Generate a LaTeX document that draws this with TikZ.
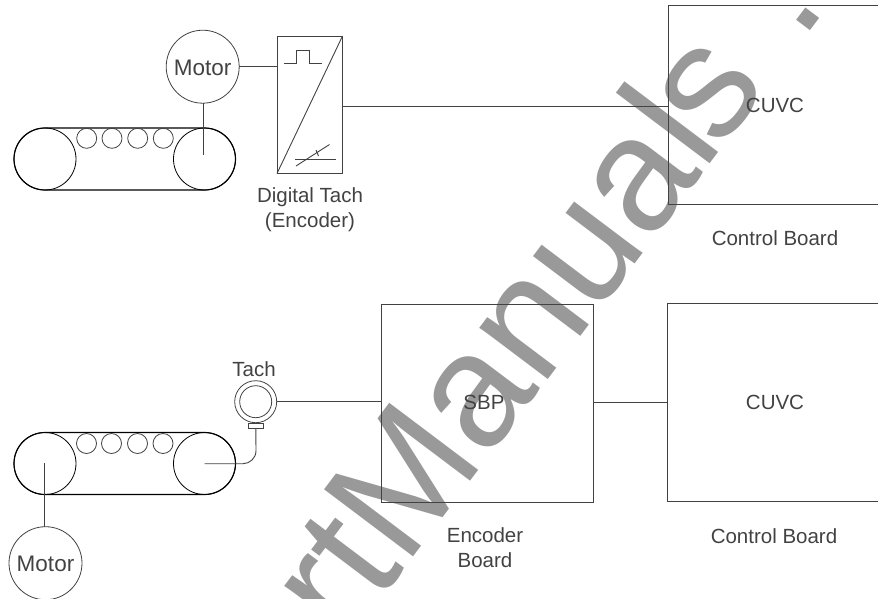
\documentclass[tikz,border=0pt]{standalone}
\usepackage{fontspec}
\setmainfont{Liberation Sans}
\definecolor{ink}{gray}{0.26}
\definecolor{wm}{gray}{0.6}
\tikzset{
  x=1pt,y=-1pt,
  wire/.style={draw=ink,line width=0.9pt},
  belt/.style={draw=black,line width=1.15pt},
  blockbox/.style={draw=ink,line width=0.9pt,fill=none,inner sep=0pt,outer sep=0pt},
  round/.style={circle,draw=ink,line width=0.8pt,inner sep=0pt,outer sep=0pt,minimum size=#1},
  label/.style={text=ink,font=\fontsize{20.5}{20.5}\selectfont,inner sep=0pt,align=center},
  motorlabel/.style={label,font=\fontsize{22.5}{22.5}\selectfont}
}
\begin{document}
\begin{tikzpicture}
\useasboundingbox (0,0) rectangle (878,598);
% watermark
\begin{scope}
\clip (0,0) rectangle (878,598);
\node[anchor=base west,rotate=53,inner sep=0pt,text=wm,font=\fontsize{162}{162}\selectfont] (wmark) at (346,647) {rtManual\kern-0.05em s\kern0.33em.};
\end{scope}
% upper conveyor
\node[round=62pt,draw=black] (ul) at (45,159) {};
\node[round=62pt,draw=black] (ur) at (204.5,159) {};
\draw[belt] (ul.north) -- (ur.north) arc[start angle=90,end angle=-90,radius=31pt] -- (ul.south) arc[start angle=270,end angle=90,radius=31pt] -- cycle;
\node[round=20pt] (ua) at (86.7,138.3) {};
\node[round=20pt] (ub) at (112,138.3) {};
\node[round=20pt] (uc) at (137.7,138.3) {};
\node[round=20pt] (ud) at (163.3,138.3) {};
\node[round=73pt] (m1) at (202.7,66.7) {};
\node[motorlabel] (m1t) at (202.7,67.5) {Motor};
\coordinate (m1e) at (203.5,155);
\draw[wire] (m1.south -| m1e) -- (m1e);
% digital tach
\node[blockbox,minimum width=65.5pt,minimum height=137.5pt] (enc) at (309.75,104.75) {};
\draw[wire] (enc.south west) -- (enc.north east);
\draw[wire] (m1.east) -- (enc.west |- m1.east);
\draw[wire] (283.5,63) -- (296,63) -- (296,50.5) -- (309,50.5) -- (309,63) -- (322,63);
\draw[wire] (295,159) -- (336,159);
\draw[wire] (296,166) -- (329.5,144.5);
\draw[wire] (316,150) -- (318.5,156);
\node[label] (enct) at (310,209.5) {Digital Tach\\[4.5pt](Encoder)};
% upper control board
\draw[wire] (878,5) -- (668,5) -- (668,204) -- (878,204);
\coordinate (cb1l) at (668,106);
\draw[wire] (enc.east |- cb1l) -- (cb1l);
\node[label] (cuvc1) at (775,105) {CUVC};
\node[label] (cbt1) at (775,238) {Control Board};
% lower conveyor
\node[round=62pt,draw=black] (ll) at (45,463.5) {};
\node[round=62pt,draw=black] (lr) at (204.5,463.5) {};
\draw[belt] (ll.north) -- (lr.north) arc[start angle=90,end angle=-90,radius=31pt] -- (ll.south) arc[start angle=270,end angle=90,radius=31pt] -- cycle;
\node[round=20pt] (la) at (86.5,443.5) {};
\node[round=20pt] (lb) at (111.5,443.5) {};
\node[round=20pt] (lc) at (137.5,443.5) {};
\node[round=20pt] (ld) at (163,443.5) {};
\node[round=73pt] (m2) at (45.5,563.2) {};
\node[motorlabel] (m2t) at (45.5,564) {Motor};
\coordinate (m2e) at (44,463);
\draw[wire] (m2.north -| m2e) -- (m2e);
% tach
\node[round=42pt] (to) at (255.7,401.7) {};
\node[round=32pt] (ti) at (255.7,401.7) {};
\node[blockbox,minimum width=15.5pt,minimum height=5.5pt] (tb) at (255.8,425.8) {};
\node[label] (tt) at (254,369) {Tach};
\coordinate (lrc) at (204.5,463.7);
\draw[wire] (tb.south) -- (256,450.7) .. controls (256,458) and (250,463.7) .. (243,463.7) -- (lrc);
% encoder board
\node[blockbox,minimum width=212pt,minimum height=198pt] (sbp) at (487,403) {};
\draw[wire] (to.east) -- (sbp.west |- to.east);
\node[label] (sbpt) at (484,402) {SBP};
\node[label] (ebt) at (485,548) {Encoder\\[4.5pt]Board};
% lower control board
\draw[wire] (878,303) -- (667,303) -- (667,501) -- (878,501);
\coordinate (cb2l) at (667,402);
\draw[wire] (sbp.east |- cb2l) -- (cb2l);
\node[label] (cuvc2) at (775,402) {CUVC};
\node[label] (cbt2) at (774,536) {Control Board};
\end{tikzpicture}
\end{document}
